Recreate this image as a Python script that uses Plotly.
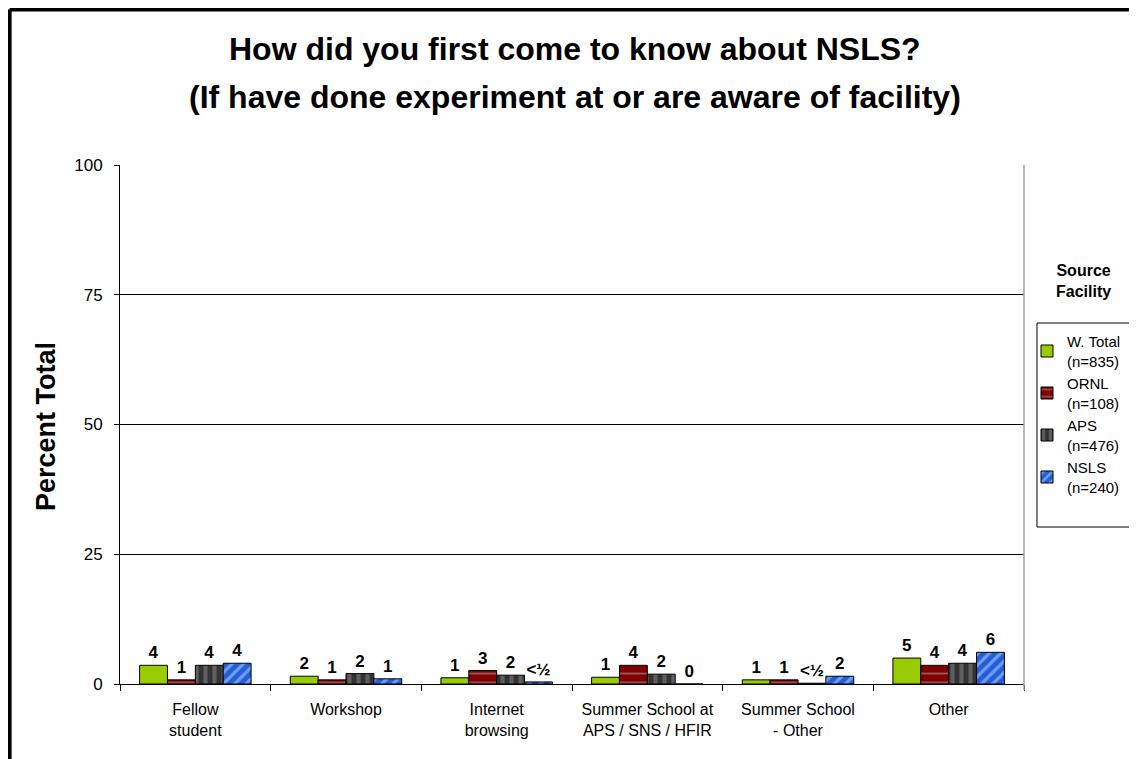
import plotly.graph_objects as go

categories = ["Fellow<br>student", "Workshop", "Internet<br>browsing",
              "Summer School at<br>APS / SNS / HFIR", "Summer School<br>- Other", "Other"]
series_names = ["W. Total<br>(n=835)", "ORNL<br>(n=108)", "APS<br>(n=476)", "NSLS<br>(n=240)"]
w_total = [3.6, 1.5, 1.2, 1.3, 0.8, 5.0]
ornl = [0.8, 0.8, 2.6, 3.6, 0.8, 3.6]
aps = [3.6, 2.0, 1.7, 1.9, 0.15, 4.0]
nsls = [4.0, 1.0, 0.4, 0.0, 1.5, 6.1]
w_total_lbl = ["4", "2", "1", "1", "1", "5"]
ornl_lbl = ["1", "1", "3", "4", "1", "4"]
aps_lbl = ["4", "2", "2", "2", "<½", "4"]
nsls_lbl = ["4", "1", "<½", "0", "2", "6"]
y_ticks = [0, 25, 50, 75, 100]

values = [w_total, ornl, aps, nsls]
labels = [w_total_lbl, ornl_lbl, aps_lbl, nsls_lbl]
styles = [
    dict(color="#99CC00", pattern=dict(shape="")),
    dict(color="#800000", pattern=dict(shape="-", fgcolor="#B0B0B0", bgcolor="#800000", size=9, solidity=0.2)),
    dict(color="#333333", pattern=dict(shape="|", fgcolor="#8C8C8C", bgcolor="#333333", size=9, solidity=0.45)),
    dict(color="#1F5FD8", pattern=dict(shape="/", fgcolor="#C8D6FF", bgcolor="#1F5FD8", size=8, solidity=0.4)),
]

FONT = "Liberation Sans, Arial, sans-serif"

# Screen -> paper helpers (plot area occupies screen x 120..1025, y 165..684;
# the page adds an 8px body margin, compensated in the figure margins)
def px(x):
    return (x - 120) / 905

def py(y):
    return (684 - y) / 519

fig = go.Figure()
for name, vals, lbl, st in zip(series_names, values, labels, styles):
    fig.add_trace(go.Bar(
        x=categories, y=vals, name=name, text=lbl,
        textposition="outside", cliponaxis=False,
        textfont=dict(family=FONT, size=17, color="black"),
        texttemplate="<b>%{text}</b>",
        marker=dict(color=st["color"], pattern=st["pattern"], line=dict(color="black", width=1)),
    ))

fig.update_layout(
    width=1129, height=751,
    margin=dict(l=112, r=112, t=157, b=75),
    paper_bgcolor="white", plot_bgcolor="white",
    barmode="group", bargap=0.26, bargroupgap=0,
    font=dict(family=FONT, size=14, color="black"),
    showlegend=True,
    legend=dict(x=px(1027), xanchor="left", y=py(325), yanchor="top",
                bgcolor="rgba(0,0,0,0)", borderwidth=0,
                font=dict(family=FONT, size=15, color="black"),
                itemwidth=30),
)
fig.update_xaxes(
    tickson="boundaries", ticks="outside", ticklen=6, tickcolor="black",
    showline=True, linecolor="black", linewidth=1,
    tickfont=dict(family=FONT, size=16, color="black"),
    ticklabelstandoff=11,
    showgrid=False,
)
fig.update_yaxes(
    range=[0, 100], tickvals=y_ticks, ticks="outside", ticklen=5, tickcolor="black",
    showline=True, linecolor="black", linewidth=1,
    showgrid=True, gridcolor="black", gridwidth=1,
    tickfont=dict(family=FONT, size=17, color="black"),
    ticklabelstandoff=8,
    zeroline=False,
)

# titles
fig.add_annotation(text="<b>How did you first come to know about NSLS?</b>", xref="paper", yref="paper",
                   x=px(576), y=py(49), showarrow=False, font=dict(family=FONT, size=32, color="black"),
                   xanchor="center", yanchor="middle")
fig.add_annotation(text="<b>(If have done experiment at or are aware of facility)</b>", xref="paper", yref="paper",
                   x=px(576), y=py(97), showarrow=False, font=dict(family=FONT, size=32, color="black"),
                   xanchor="center", yanchor="middle")
fig.add_annotation(text="<b>Percent Total</b>", xref="paper", yref="paper", textangle=-90,
                   x=px(46), y=py(427), showarrow=False, font=dict(family=FONT, size=27, color="black"),
                   xanchor="center", yanchor="middle")
fig.add_annotation(text="<b>Source<br>Facility</b>", xref="paper", yref="paper",
                   x=px(1085), y=py(281), showarrow=False,
                   font=dict(family=FONT, size=16, color="black"), xanchor="center", yanchor="middle")

# legend frame
fig.add_shape(type="rect", xref="paper", yref="paper", x0=px(1038), x1=px(1136), y0=py(323), y1=py(527),
              line=dict(color="black", width=1))
# plot-area right edge
fig.add_shape(type="line", xref="paper", yref="paper", x0=1, x1=1, y0=py(690), y1=1,
              line=dict(color="#A0A0A0", width=1.5))
# outer frame (top and left)
fig.add_shape(type="line", xref="paper", yref="paper",
              x0=px(9.5), x1=px(1145), y0=py(9.5), y1=py(9.5),
              line=dict(color="black", width=4))
fig.add_shape(type="line", xref="paper", yref="paper",
              x0=px(9.5), x1=px(9.5), y0=py(9.5), y1=py(770),
              line=dict(color="black", width=4))

fig.write_html("out.html")
